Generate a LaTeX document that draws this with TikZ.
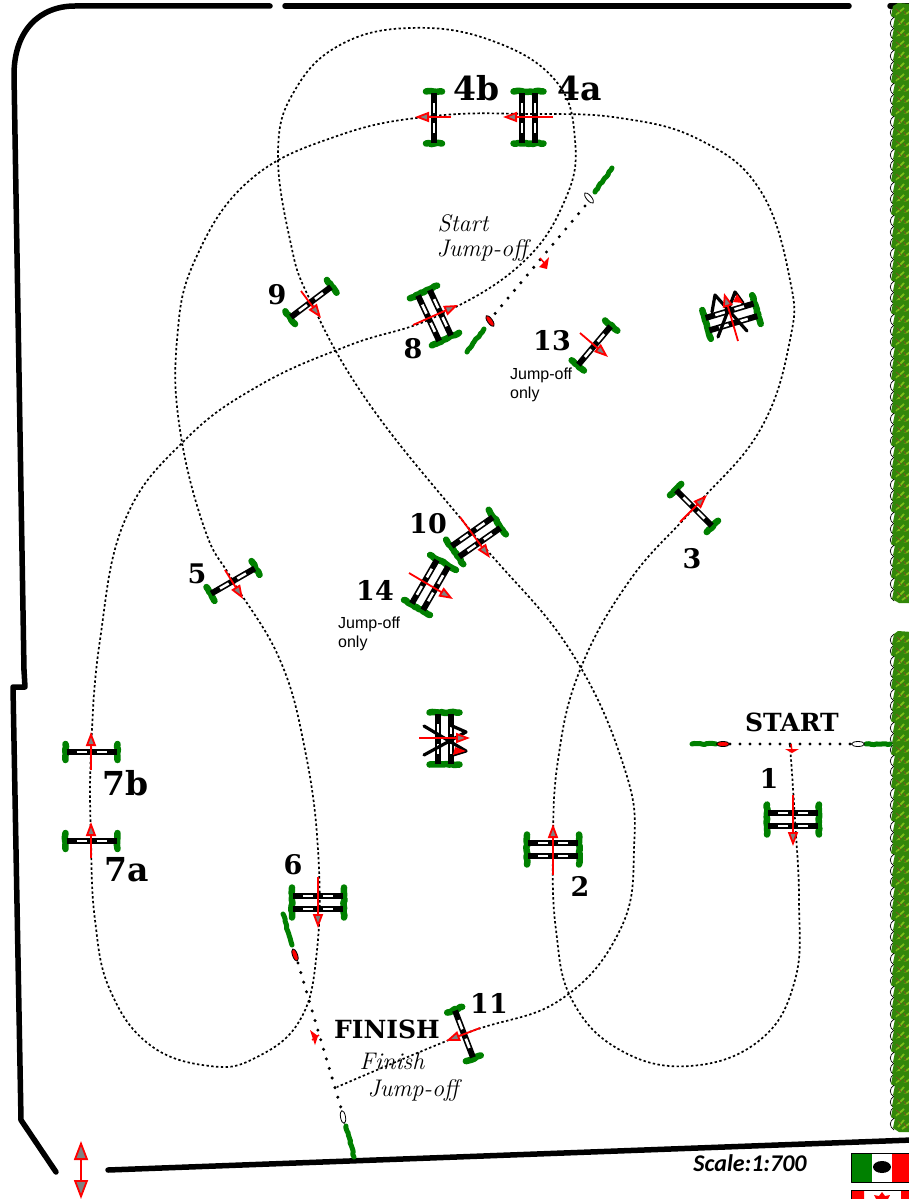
\documentclass[tikz,border=0pt]{standalone}
\usepackage{fontspec}
\usetikzlibrary{arrows.meta,decorations.pathmorphing}
\newfontfamily\sansfont{Liberation Sans}
\newfontfamily\scalefont{Carlito}
\newfontfamily\numfont{DejaVu Serif}
\definecolor{bushgreen}{RGB}{0,128,0}
\definecolor{hedgegreen}{RGB}{50,135,10}
\definecolor{leafgreen}{RGB}{125,190,25}
\definecolor{leafbrown}{RGB}{120,90,30}
\tikzset{
	wall/.style={line width=5.5pt,line cap=round,line join=round},
	course/.style={line width=1.7pt,dash pattern=on 2.4pt off 2.4pt},
	gateline/.style={line width=3.4pt,line cap=round,dash pattern=on 0pt off 10pt},
	rail/.style={line width=6pt},
	railgap/.style={white,line width=2.6pt},
	jumparrow/.style={red,line width=1.8pt,-{Triangle[length=14pt,width=10pt,fill=gray]}},
	crossed/.style={line width=3.2pt,line cap=round,line join=round},
	jumpnum/.style={font=\fontsize{27}{27}\numfont\bfseries,inner sep=0pt},
	jumpnumbig/.style={font=\fontsize{33}{33}\numfont\bfseries,inner sep=0pt},
	gatelabel/.style={font=\fontsize{25}{25}\numfont\bfseries,inner sep=0pt},
	handtext/.style={font=\fontsize{24}{24}\selectfont\itshape,inner sep=0pt},
	onlytext/.style={font=\fontsize{16}{16}\sansfont,inner sep=0pt,anchor=west},
	bush/.style={bushgreen,line width=6.5pt,line cap=round,decorate,decoration={random steps,segment length=2.5pt,amplitude=.7pt}},
	single/.pic={
		\draw[bush] (-26,-8)--(-26,8) (26,-8)--(26,8);
		\draw[rail] (-25,0)--(25,0);
		\draw[railgap] (-15,0)--(-5,0) (5,0)--(15,0);
	},
	oxer/.pic={
		\draw[bush] (-26,-15)--(-26,15) (26,-15)--(26,15);
		\draw[rail] (-25,-6.5)--(25,-6.5) (-25,6.5)--(25,6.5);
		\draw[railgap] (-15,-6.5)--(-5,-6.5) (5,-6.5)--(15,-6.5) (-15,6.5)--(-5,6.5) (5,6.5)--(15,6.5);
	}
}
\begin{document}
\begin{tikzpicture}[x=1pt,y=-1pt,>=stealth,line join=round]
	\useasboundingbox (0,0) rectangle (909,1199);
	% arena walls
	\draw[wall] (24,670)--(25,687)--(13,687)--(21,1120)--(56,1172);
	\draw[wall] (24,670)--(14,75) .. controls (14,30) and (40,6) .. (75,6)--(270,6);
	\draw[wall] (285,6)--(849,6) (890,6)--(912,6);
	\draw[wall] (108,1170)--(912,1140);
	% hedge on the right
	\foreach \ya/\yc/\yb in {12/23/600,640/651/1130}{
		\foreach \y [evaluate=\y as \k using {int(mod(\y,3))}] in {\ya,\yc,...,\yb}{
			\draw[black,line width=.7pt] (894,\y-6) .. controls (889,\y-2) and (889,\y+2) .. (894,\y+6);
			\fill[hedgegreen] (893+\k,\y-6)--(898,\y-9)--(912,\y-8)--(912,\y+8)--(899,\y+8)--(891+\k,\y+4)--cycle;
			\draw[leafgreen,line width=1.8pt] (896+\k,\y+3)--(904,\y-4) (902,\y+5)--(910,\y-1);
			\draw[leafbrown,line width=.8pt] (896+\k,\y-3)--(901,\y+1) (904,\y-1)--(907,\y+4);
		}
	}
	% jumps
	\foreach \x/\y/\r in {91.5/752/0,91.5/841/0,434/117.5/90,594.5/345.5/50,694/508/-45,233/581/30,311/302/37,464/1034/-69}
		\pic[rotate=\r] at (\x,\y) {single};
	\foreach \x/\y/\r in {793/819.5/0,553/849.5/0,528.5/117.5/90,434.5/315.5/-65,318/902.5/0,476/537/35,430/585/60,731.5/317/16.6,444.5/738.5/90}
		\pic[rotate=\r] at (\x,\y) {oxer};
	% crossed out jumps
	\draw[crossed] (747,331)--(715,295)--(712,312) (718,337)--(735,292)--(743,303);
	\fill[red] (733,302)--(737,294)--(743,303)--cycle;
	\draw[crossed] (424,726)--(466,751)--(453,755) (424,755)--(466,732)--(450,725);
	\fill[red] (453,755)--(466,751)--(455,747)--cycle;
	% course
	\draw[course] plot[smooth,tension=.7] coordinates {(790,745) (795,820) (799,900) (795,980) (760,1040) (690,1066) (620,1050) (572,1000) (556,930) (553,850) (558,760) (580,670) (630,580) (694,508) (760,430) (790,340) (790,280) (760,190) (700,140) (620,118) (530,114) (434,116) (340,135) (250,180) (195,260) (177,340) (180,430) (205,530) (233,581) (280,660) (305,750) (318,850) (317,950) (300,1020) (255,1058) (210,1066) (150,1045) (110,990) (95,920) (91,841) (91,752) (100,640) (125,520) (185,440) (260,385) (350,345) (435,317) (520,265) (565,200) (575,140) (555,80) (490,40) (410,28) (340,45) (295,90) (278,150) (290,240) (311,302) (370,405) (476,537) (570,650) (625,770) (634,850) (620,930) (560,1000) (464,1034) (337,1087)};
	% start and finish gates
	\path (730,744) coordinate (S1) (852,744) coordinate (S2)
		(493,316) coordinate (J1) (585,206) coordinate (J2)
		(298,963) coordinate (F1) (341,1108) coordinate (F2);
	\draw[gateline] (S1)--(S2) (J2)--(J1) (F1)--(F2);
	\draw[bush,line width=5pt] (692,744)--(716,744) (866,744)--(890,744)
		(612,168)--(595,192) (467,352)--(484,329)
		(283,914)--(292,945) (346,1126)--(354,1157);
	\foreach \x/\y/\r/\c in {723/744/0/red,858/744/0/white,589/198/-50/white,490/321/-55/red,295/955/-70/red,343/1117/-80/white}
		\draw[fill=\c,line width=.8pt,rotate around={\r:(\x,\y)}] (\x,\y) ellipse (6.5 and 2.5);
	% small markers on the gates
	\draw[red,line width=1.5pt] (791,744)--(792,752);
	\fill[red] (785,749)--(799,749)--(792,753)--cycle;
	\draw[red,line width=1.5pt] (540,258)--(546,265);
	\fill[red] (539,267)--(549,257)--(547,269)--cycle;
	\draw[red,line width=1.5pt] (319,1035)--(312,1040);
	\fill[red] (310,1030)--(315,1045)--(318,1036)--cycle;
	% arrows
	\foreach \xa/\ya/\xb/\yb in {793/795/793/846,553/875/553/824,680/522/707/495,553/117/503/117,451/117/415/117,225/570/243/599,318/877/318/928,91/858/91/822,91/770/91/732,413/325/458/305,301/291/321/318,460/517/490/558,480/1028/446/1041,580/333/608/357,409/573/453/599,738/341/724/293,419/738/470/738}
		\draw[jumparrow] (\xa,\ya)--(\xb,\yb);
	\draw[red,line width=1.8pt,{Triangle[length=19pt,width=14pt,fill=gray]}-{Triangle[length=19pt,width=14pt,fill=gray]}] (81,1141)--(81,1199);
	% numbers
	\foreach \x/\y/\t in {769/778/1,580/886/2,692/559/3,197/574/5,293/865/6,413/349/8,277/295/9,428/524/10,489/1003/11,552/341/13,375/590/14}
		\node[jumpnum] at (\x,\y) {\t};
	\foreach \x/\y/\t in {477/88/4b,580/88/4a,126/783/7b,127/870/7a}
		\node[jumpnumbig] at (\x,\y) {\t};
	\node[gatelabel] at (792,722) {START};
	\node[gatelabel] at (387,1029) {FINISH};
	\node[handtext] at (463,223) {Start};
	\node[handtext] at (482,250) {Jump-off};
	\node[handtext] at (392,1061) {Finish};
	\node[handtext] at (413,1090) {Jump-off};
	\foreach \x/\y in {510/375,338/624}{
		\node[onlytext] at (\x,\y) {Jump-off};
		\node[onlytext] at (\x,\y+19) {only};
	}
	\node[font=\fontsize{24}{24}\scalefont\bfseries\itshape,inner sep=0pt] at (750,1163) {Scale:1:700};
	% flags
	\fill[bushgreen] (851,1153) rectangle (872,1182);
	\fill[red] (892,1153) rectangle (910,1182);
	\fill[black] (882,1167) ellipse (9 and 6);
	\draw[line width=1pt] (851,1153) rectangle (912,1182);
	\fill[red] (851,1190) rectangle (864,1201) (901,1190) rectangle (910,1201);
	\fill[red] (882,1192)--(885,1196)--(890,1195)--(887,1201)--(877,1201)--(874,1195)--(879,1196)--cycle;
	\draw[line width=1pt] (851,1201)--(851,1190)--(912,1190);
\end{tikzpicture}
\end{document}
